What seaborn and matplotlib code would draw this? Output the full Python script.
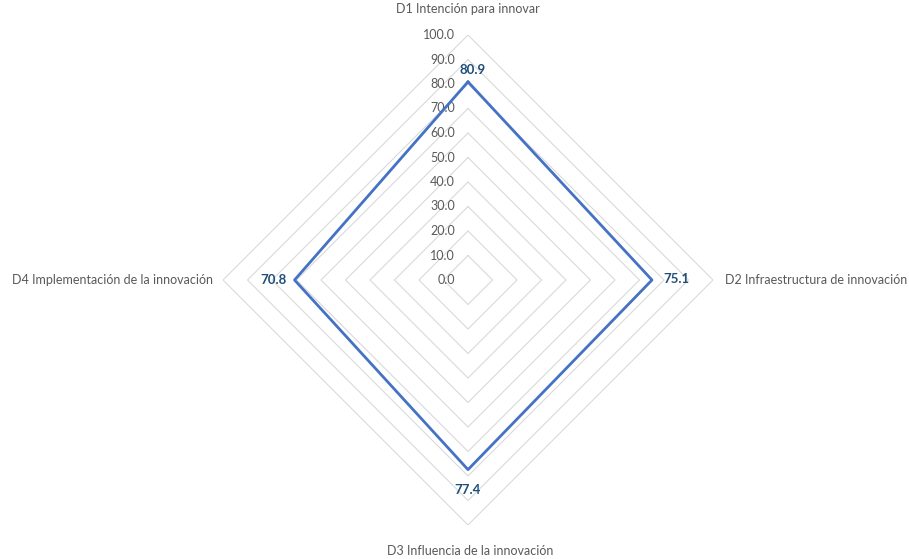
import numpy as np
import matplotlib
matplotlib.use("Agg")
import matplotlib.pyplot as plt
import seaborn as sns
import pandas as pd

# Dimension scores
categories = ["D1 Intención para innovar", "D2 Infraestructura de innovación",
              "D3 Influencia de la innovación", "D4 Implementación de la innovación"]
values = [80.9, 75.1, 77.4, 70.8]
ring_levels = [10, 20, 30, 40, 50, 60, 70, 80, 90, 100]
tick_labels = ["0.0", "10.0", "20.0", "30.0", "40.0", "50.0", "60.0", "70.0", "80.0", "90.0", "100.0"]

sns.set_theme(style="white")
plt.rcParams["font.family"] = ["Lato", "DejaVu Sans"]

W, H = 909, 559
fig = plt.figure(figsize=(W / 100, H / 100), dpi=100)
cx, cy, R = 468, 280, 245
ax = fig.add_axes([(cx - R) / W, (H - cy - R) / H, 2 * R / W, 2 * R / H], projection="polar")
ax.set_theta_offset(np.pi / 2)
ax.set_theta_direction(-1)
ax.set_ylim(0, 100)
ax.grid(False)
ax.spines["polar"].set_visible(False)
ax.set_xticks([])
ax.set_yticks([])
ax.set_facecolor("none")

n = len(categories)
angles = np.arange(n) * 2 * np.pi / n
closed_angles = np.append(angles, 2 * np.pi)

grid_color = "#D9D9D9"
# Diamond-shaped rings
for lvl in ring_levels:
    ax.plot(closed_angles, [lvl] * (n + 1), color=grid_color, lw=0.8, zorder=1)

# Tick labels along the vertical axis
for lvl, txt in zip([0] + ring_levels, tick_labels):
    ax.annotate(txt, xy=(0, lvl), xytext=(-9.5, 0), textcoords="offset points",
                ha="right", va="center", fontsize=9, color="#595959")

# Series line
df = pd.DataFrame({"angle": closed_angles, "value": values + values[:1]})
sns.lineplot(data=df, x="angle", y="value", sort=False, ax=ax,
             color="#4472C4", lw=2.0, zorder=3)
ax.set_xlabel("")
ax.set_ylabel("")

# Value labels
label_offsets = [((3.5, 8.5), "center", "center"),
                 ((8, 1), "left", "center"),
                 ((0, -14.5), "center", "center"),
                 ((-5.5, 0), "right", "center")]
for a, v, (off, ha, va) in zip(angles, values, label_offsets):
    ax.annotate(f"{v:.1f}", xy=(a, v), xytext=off, textcoords="offset points",
                ha=ha, va=va, fontsize=9.5, fontweight="bold", color="#1F4E79", zorder=4)

# Category labels
cat_pos = [((0, 18.5), "center", "center"),
           ((8.5, 0), "left", "center"),
           ((1.5, -19), "center", "center"),
           ((-7.5, 0), "right", "center")]
for a, c, (off, ha, va) in zip(angles, categories, cat_pos):
    ax.annotate(c, xy=(a, 100), xytext=off, textcoords="offset points",
                ha=ha, va=va, fontsize=9, color="#595959", annotation_clip=False)

fig.savefig("out.png", dpi=100)
